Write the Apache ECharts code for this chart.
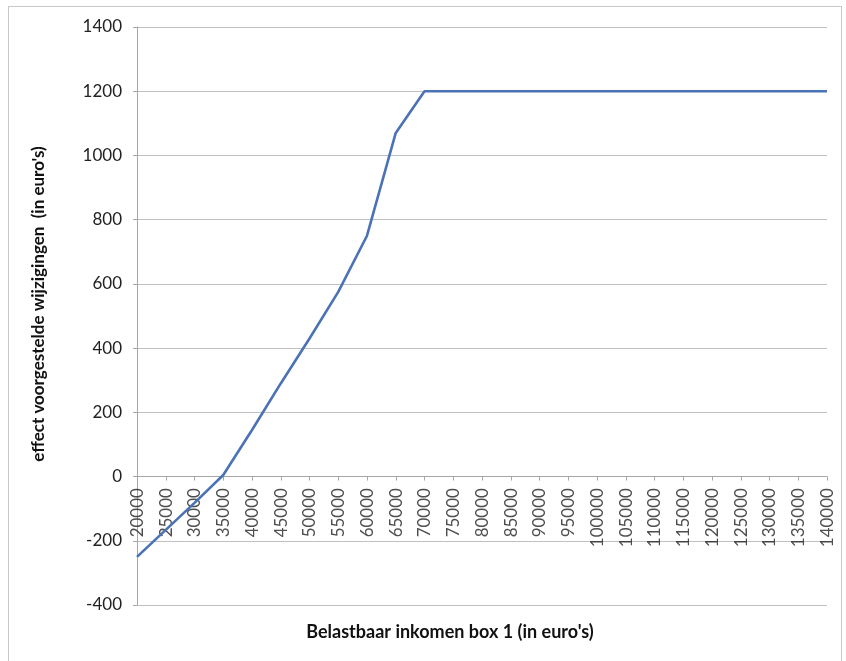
<!DOCTYPE html>
<html>
<head>
<meta charset="utf-8">
<script src="https://cdn.jsdelivr.net/npm/echarts@6/dist/echarts.min.js"></script>
<style>
html,body{margin:0;padding:0;background:#fff;}
#frame{position:absolute;left:8px;top:6px;width:834px;height:670px;border:1px solid #c8c8c8;box-sizing:border-box;}
#chart{position:absolute;left:0;top:0;width:846px;height:661px;}
</style>
</head>
<body>
<div id="frame"></div>
<div id="chart"></div>
<script>
const categories = ['20000','25000','30000','35000','40000','45000','50000','55000','60000','65000','70000','75000','80000','85000','90000','95000','100000','105000','110000','115000','120000','125000','130000','135000','140000'];
const effect = [-250,-166,-82,5,145,290,430,575,750,1070,1200,1200,1200,1200,1200,1200,1200,1200,1200,1200,1200,1200,1200,1200,1200];
const yTicks = {min:-400, max:1400, interval:200};
const yTitle = "effect voorgestelde wijzigingen  (in euro's)";
const xTitle = "Belastbaar inkomen box 1 (in euro's)";

const chart = echarts.init(document.getElementById('chart'));
const FONT = 'Lato';
chart.setOption({
  animation:false,
  backgroundColor:'transparent',
  grid:{left:137, right:19, top:27, bottom:56, containLabel:false, outerBoundsMode:'none'},
  xAxis:{
    type:'category',
    data:categories,
    boundaryGap:false,
    axisLine:{onZero:true, onZeroAxisIndex:0, lineStyle:{color:'#a6a6a6', width:1}},
    axisTick:{show:true, length:4, interval:0, lineStyle:{color:'#a6a6a6'}},
    axisLabel:{show:false},
    splitLine:{show:false}
  },
  yAxis:{
    type:'value',
    min:yTicks.min, max:yTicks.max, interval:yTicks.interval,
    axisLine:{show:true, onZero:false, lineStyle:{color:'#a6a6a6', width:1}},
    axisTick:{show:true, length:4, lineStyle:{color:'#a6a6a6'}},
    axisLabel:{margin:15, color:'#222', fontFamily:FONT, fontSize:17, formatter:function(v){return String(v);}},
    splitLine:{show:true, lineStyle:{color:'#c0c0c0', width:1.2}}
  },
  graphic:[{
    type:'text', x:450, y:632,
    style:{text:xTitle, align:'center', verticalAlign:'middle', fontFamily:FONT, fontSize:18, fontWeight:'bold', fill:'#111'}
  },{
    type:'text', x:39, y:304, rotation:Math.PI/2,
    style:{text:yTitle, align:'center', verticalAlign:'middle', fontFamily:FONT, fontSize:17, fontWeight:'bold', fill:'#111'}
  }],
  series:[{
    type:'line',
    data:effect,
    symbol:'none',
    lineStyle:{color:'#4a72b5', width:2.6},
    itemStyle:{color:'#4a72b5'},
    z:3
  },{
    type:'scatter',
    data:categories.map(function(c){return [c,0];}),
    symbolSize:1,
    itemStyle:{color:'rgba(0,0,0,0)'},
    silent:true,
    z:2,
    label:{
      show:true,
      position:[1,12],
      align:'right',
      verticalAlign:'middle',
      rotate:90,
      formatter:function(p){return p.value[0];},
      fontFamily:FONT, fontSize:17, color:'#222'
    }
  }]
});
</script>
</body>
</html>
